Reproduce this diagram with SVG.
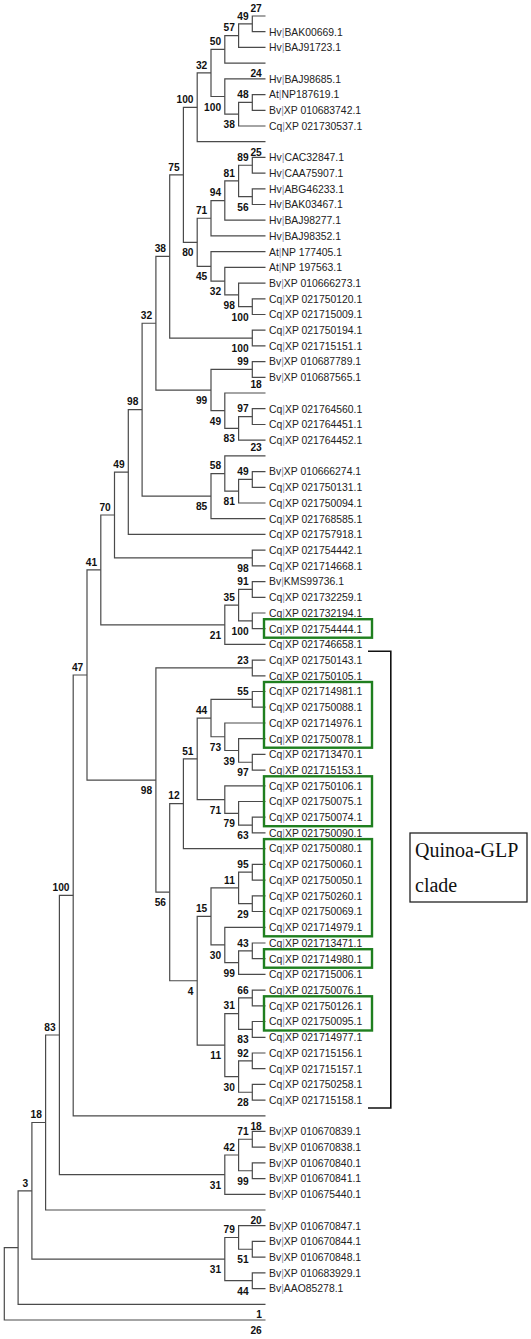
<svg xmlns="http://www.w3.org/2000/svg" width="531" height="1339" viewBox="0 0 531 1339">
<style>
.br{fill:none;stroke:#4a4a4a;stroke-width:1.2}
.t{font-family:"Liberation Sans",Arial,sans-serif;font-size:10.4px;fill:#222}
.p{fill:#8a8aa8}
.b{font-family:"Liberation Sans",Arial,sans-serif;font-size:10.2px;font-weight:bold;fill:#111;text-anchor:end}
.gb{fill:none;stroke:#1f7f1f;stroke-width:2.4}
.brk{fill:none;stroke:#111;stroke-width:1.6}
.q{font-family:"Liberation Serif","Times New Roman",serif;font-size:20px;fill:#111}
</style>
<rect width="531" height="1339" fill="#fff"/>
<g id="connectors">
<path class="br" d="M265.5 16 H252.3 V31.7 H265.5"/>
<path class="br" d="M252.3 23.85 H238.6 V47.4 H265.5"/>
<path class="br" d="M238.6 35.6 H224.8 V63.1 H265.5"/>
<path class="br" d="M265.5 94.6 H252.3 V110.3 H265.5"/>
<path class="br" d="M252.3 102.45 H238.6 V126 H265.5"/>
<path class="br" d="M265.5 78.8 H224.8 V114.2 H238.6"/>
<path class="br" d="M224.8 49.35 H211 V96.5 H224.8"/>
<path class="br" d="M211 72.9 H197.2 V141.7 H265.5"/>
<path class="br" d="M265.5 157.4 H252.3 V173.1 H265.5"/>
<path class="br" d="M265.5 188.8 H252.3 V204.5 H265.5"/>
<path class="br" d="M252.3 165.25 H238.6 V196.65 H252.3"/>
<path class="br" d="M238.6 180.95 H224.8 V220.2 H265.5"/>
<path class="br" d="M224.8 200.6 H211 V235.9 H265.5"/>
<path class="br" d="M265.5 298.8 H252.3 V314.5 H265.5"/>
<path class="br" d="M265.5 283.1 H238.6 V306.65 H252.3"/>
<path class="br" d="M265.5 267.4 H224.8 V294.9 H238.6"/>
<path class="br" d="M265.5 251.7 H211 V281.15 H224.8"/>
<path class="br" d="M211 218.25 H197.2 V266.4 H211"/>
<path class="br" d="M197.2 107.3 H183.4 V242.3 H197.2"/>
<path class="br" d="M265.5 330.2 H252.3 V345.9 H265.5"/>
<path class="br" d="M183.4 174.8 H169.7 V338.05 H252.3"/>
<path class="br" d="M265.5 361.6 H252.3 V377.3 H265.5"/>
<path class="br" d="M265.5 408.7 H252.3 V424.5 H265.5"/>
<path class="br" d="M252.3 416.6 H238.6 V440.2 H265.5"/>
<path class="br" d="M265.5 393 H224.8 V428.4 H238.6"/>
<path class="br" d="M252.3 369.45 H211 V410.7 H224.8"/>
<path class="br" d="M169.7 256.4 H155.9 V390.1 H211"/>
<path class="br" d="M265.5 471.6 H252.3 V487.3 H265.5"/>
<path class="br" d="M252.3 479.45 H238.6 V503 H265.5"/>
<path class="br" d="M265.5 455.9 H224.8 V491.2 H238.6"/>
<path class="br" d="M224.8 473.55 H211 V518.7 H265.5"/>
<path class="br" d="M155.9 323.25 H142.1 V496.1 H211"/>
<path class="br" d="M142.1 409.7 H128.3 V534.4 H265.5"/>
<path class="br" d="M265.5 550.1 H252.3 V565.8 H265.5"/>
<path class="br" d="M128.3 472.05 H114.5 V557.95 H252.3"/>
<path class="br" d="M265.5 581.6 H252.3 V597.3 H265.5"/>
<path class="br" d="M265.5 613 H252.3 V628.7 H265.5"/>
<path class="br" d="M252.3 589.45 H238.6 V620.85 H252.3"/>
<path class="br" d="M238.6 605.15 H224.8 V644.4 H265.5"/>
<path class="br" d="M114.5 515 H100.8 V624.8 H224.8"/>
<path class="br" d="M265.5 660.1 H252.3 V675.8 H265.5"/>
<path class="br" d="M265.5 691.5 H252.3 V707.2 H265.5"/>
<path class="br" d="M265.5 754.4 H252.3 V770.1 H265.5"/>
<path class="br" d="M265.5 738.7 H238.6 V762.25 H252.3"/>
<path class="br" d="M265.5 723 H224.8 V750.5 H238.6"/>
<path class="br" d="M252.3 699.35 H211 V736.75 H224.8"/>
<path class="br" d="M265.5 817.2 H252.3 V832.9 H265.5"/>
<path class="br" d="M265.5 801.5 H238.6 V825.05 H252.3"/>
<path class="br" d="M265.5 785.8 H224.8 V813.3 H238.6"/>
<path class="br" d="M211 718.05 H197.2 V799.55 H224.8"/>
<path class="br" d="M197.2 758.8 H183.4 V848.6 H265.5"/>
<path class="br" d="M265.5 864.3 H252.3 V880.1 H265.5"/>
<path class="br" d="M265.5 895.8 H252.3 V911.5 H265.5"/>
<path class="br" d="M252.3 872.2 H238.6 V903.65 H252.3"/>
<path class="br" d="M265.5 943 H252.3 V958.7 H265.5"/>
<path class="br" d="M252.3 950.85 H238.6 V974.4 H265.5"/>
<path class="br" d="M265.5 927.3 H224.8 V962.6 H238.6"/>
<path class="br" d="M238.6 887.9 H211 V944.95 H224.8"/>
<path class="br" d="M265.5 990.1 H252.3 V1005.8 H265.5"/>
<path class="br" d="M265.5 1021.5 H252.3 V1037.3 H265.5"/>
<path class="br" d="M252.3 997.95 H238.6 V1029.4 H252.3"/>
<path class="br" d="M265.5 1053 H252.3 V1068.7 H265.5"/>
<path class="br" d="M265.5 1084.4 H252.3 V1100.1 H265.5"/>
<path class="br" d="M252.3 1060.85 H238.6 V1092.25 H252.3"/>
<path class="br" d="M238.6 1013.7 H224.8 V1076.55 H238.6"/>
<path class="br" d="M211 916.4 H197.2 V1045.1 H224.8"/>
<path class="br" d="M183.4 803.7 H169.7 V980.75 H197.2"/>
<path class="br" d="M252.3 667.95 H155.9 V892.2 H169.7"/>
<path class="br" d="M100.8 569.9 H87 V780.1 H155.9"/>
<path class="br" d="M87 675 H73.2 V1115.8 H265.5"/>
<path class="br" d="M265.5 1131.4 H252.3 V1147.1 H265.5"/>
<path class="br" d="M265.5 1162.9 H252.3 V1178.6 H265.5"/>
<path class="br" d="M252.3 1139.25 H238.6 V1170.75 H252.3"/>
<path class="br" d="M238.6 1155 H224.8 V1194.3 H265.5"/>
<path class="br" d="M73.2 895.4 H59.4 V1174.65 H224.8"/>
<path class="br" d="M59.4 1035 H45.6 V1210 H265.5"/>
<path class="br" d="M265.5 1241.4 H252.3 V1257.1 H265.5"/>
<path class="br" d="M265.5 1225.7 H238.6 V1249.25 H252.3"/>
<path class="br" d="M265.5 1272.8 H252.3 V1288.6 H265.5"/>
<path class="br" d="M238.6 1237.5 H224.8 V1280.7 H252.3"/>
<path class="br" d="M45.6 1122.5 H31.9 V1259.1 H224.8"/>
<path class="br" d="M31.9 1190.8 H18.1 V1304.3 H265.5"/>
<path class="br" d="M18.1 1247.55 H4.3 V1320 H265.5"/>
</g>
<g id="leaves" class="t">
<g id="leaf02"><text x="269" y="35.5">Hv<tspan class="p">|</tspan>BAK00669.1</text></g>
<g id="leaf03"><text x="269" y="51.2">Hv<tspan class="p">|</tspan>BAJ91723.1</text></g>
<g id="leaf05"><text x="269" y="82.6">Hv<tspan class="p">|</tspan>BAJ98685.1</text></g>
<g id="leaf06"><text x="269" y="98.4">At<tspan class="p">|</tspan>NP187619.1</text></g>
<g id="leaf07"><text x="269" y="114.1">Bv<tspan class="p">|</tspan>XP 010683742.1</text></g>
<g id="leaf08"><text x="269" y="129.8">Cq<tspan class="p">|</tspan>XP 021730537.1</text></g>
<g id="leaf10"><text x="269" y="161.2">Hv<tspan class="p">|</tspan>CAC32847.1</text></g>
<g id="leaf11"><text x="269" y="176.9">Hv<tspan class="p">|</tspan>CAA75907.1</text></g>
<g id="leaf12"><text x="269" y="192.6">Hv<tspan class="p">|</tspan>ABG46233.1</text></g>
<g id="leaf13"><text x="269" y="208.3">Hv<tspan class="p">|</tspan>BAK03467.1</text></g>
<g id="leaf14"><text x="269" y="224">Hv<tspan class="p">|</tspan>BAJ98277.1</text></g>
<g id="leaf15"><text x="269" y="239.7">Hv<tspan class="p">|</tspan>BAJ98352.1</text></g>
<g id="leaf16"><text x="269" y="255.5">At<tspan class="p">|</tspan>NP 177405.1</text></g>
<g id="leaf17"><text x="269" y="271.2">At<tspan class="p">|</tspan>NP 197563.1</text></g>
<g id="leaf18"><text x="269" y="286.9">Bv<tspan class="p">|</tspan>XP 010666273.1</text></g>
<g id="leaf19"><text x="269" y="302.6">Cq<tspan class="p">|</tspan>XP 021750120.1</text></g>
<g id="leaf20"><text x="269" y="318.3">Cq<tspan class="p">|</tspan>XP 021715009.1</text></g>
<g id="leaf21"><text x="269" y="334">Cq<tspan class="p">|</tspan>XP 021750194.1</text></g>
<g id="leaf22"><text x="269" y="349.7">Cq<tspan class="p">|</tspan>XP 021715151.1</text></g>
<g id="leaf23"><text x="269" y="365.4">Bv<tspan class="p">|</tspan>XP 010687789.1</text></g>
<g id="leaf24"><text x="269" y="381.1">Bv<tspan class="p">|</tspan>XP 010687565.1</text></g>
<g id="leaf26"><text x="269" y="412.5">Cq<tspan class="p">|</tspan>XP 021764560.1</text></g>
<g id="leaf27"><text x="269" y="428.3">Cq<tspan class="p">|</tspan>XP 021764451.1</text></g>
<g id="leaf28"><text x="269" y="444">Cq<tspan class="p">|</tspan>XP 021764452.1</text></g>
<g id="leaf30"><text x="269" y="475.4">Bv<tspan class="p">|</tspan>XP 010666274.1</text></g>
<g id="leaf31"><text x="269" y="491.1">Cq<tspan class="p">|</tspan>XP 021750131.1</text></g>
<g id="leaf32"><text x="269" y="506.8">Cq<tspan class="p">|</tspan>XP 021750094.1</text></g>
<g id="leaf33"><text x="269" y="522.5">Cq<tspan class="p">|</tspan>XP 021768585.1</text></g>
<g id="leaf34"><text x="269" y="538.2">Cq<tspan class="p">|</tspan>XP 021757918.1</text></g>
<g id="leaf35"><text x="269" y="553.9">Cq<tspan class="p">|</tspan>XP 021754442.1</text></g>
<g id="leaf36"><text x="269" y="569.6">Cq<tspan class="p">|</tspan>XP 021714668.1</text></g>
<g id="leaf37"><text x="269" y="585.4">Bv<tspan class="p">|</tspan>KMS99736.1</text></g>
<g id="leaf38"><text x="269" y="601.1">Cq<tspan class="p">|</tspan>XP 021732259.1</text></g>
<g id="leaf39"><text x="269" y="616.8">Cq<tspan class="p">|</tspan>XP 021732194.1</text></g>
<g id="leaf40"><text x="269" y="632.5">Cq<tspan class="p">|</tspan>XP 021754444.1</text></g>
<g id="leaf41"><text x="269" y="648.2">Cq<tspan class="p">|</tspan>XP 021746658.1</text></g>
<g id="leaf42"><text x="269" y="663.9">Cq<tspan class="p">|</tspan>XP 021750143.1</text></g>
<g id="leaf43"><text x="269" y="679.6">Cq<tspan class="p">|</tspan>XP 021750105.1</text></g>
<g id="leaf44"><text x="269" y="695.3">Cq<tspan class="p">|</tspan>XP 021714981.1</text></g>
<g id="leaf45"><text x="269" y="711">Cq<tspan class="p">|</tspan>XP 021750088.1</text></g>
<g id="leaf46"><text x="269" y="726.8">Cq<tspan class="p">|</tspan>XP 021714976.1</text></g>
<g id="leaf47"><text x="269" y="742.5">Cq<tspan class="p">|</tspan>XP 021750078.1</text></g>
<g id="leaf48"><text x="269" y="758.2">Cq<tspan class="p">|</tspan>XP 021713470.1</text></g>
<g id="leaf49"><text x="269" y="773.9">Cq<tspan class="p">|</tspan>XP 021715153.1</text></g>
<g id="leaf50"><text x="269" y="789.6">Cq<tspan class="p">|</tspan>XP 021750106.1</text></g>
<g id="leaf51"><text x="269" y="805.3">Cq<tspan class="p">|</tspan>XP 021750075.1</text></g>
<g id="leaf52"><text x="269" y="821">Cq<tspan class="p">|</tspan>XP 021750074.1</text></g>
<g id="leaf53"><text x="269" y="836.7">Cq<tspan class="p">|</tspan>XP 021750090.1</text></g>
<g id="leaf54"><text x="269" y="852.4">Cq<tspan class="p">|</tspan>XP 021750080.1</text></g>
<g id="leaf55"><text x="269" y="868.1">Cq<tspan class="p">|</tspan>XP 021750060.1</text></g>
<g id="leaf56"><text x="269" y="883.9">Cq<tspan class="p">|</tspan>XP 021750050.1</text></g>
<g id="leaf57"><text x="269" y="899.6">Cq<tspan class="p">|</tspan>XP 021750260.1</text></g>
<g id="leaf58"><text x="269" y="915.3">Cq<tspan class="p">|</tspan>XP 021750069.1</text></g>
<g id="leaf59"><text x="269" y="931.1">Cq<tspan class="p">|</tspan>XP 021714979.1</text></g>
<g id="leaf60"><text x="269" y="946.8">Cq<tspan class="p">|</tspan>XP 021713471.1</text></g>
<g id="leaf61"><text x="269" y="962.5">Cq<tspan class="p">|</tspan>XP 021714980.1</text></g>
<g id="leaf62"><text x="269" y="978.2">Cq<tspan class="p">|</tspan>XP 021715006.1</text></g>
<g id="leaf63"><text x="269" y="993.9">Cq<tspan class="p">|</tspan>XP 021750076.1</text></g>
<g id="leaf64"><text x="269" y="1009.6">Cq<tspan class="p">|</tspan>XP 021750126.1</text></g>
<g id="leaf65"><text x="269" y="1025.3">Cq<tspan class="p">|</tspan>XP 021750095.1</text></g>
<g id="leaf66"><text x="269" y="1041.1">Cq<tspan class="p">|</tspan>XP 021714977.1</text></g>
<g id="leaf67"><text x="269" y="1056.8">Cq<tspan class="p">|</tspan>XP 021715156.1</text></g>
<g id="leaf68"><text x="269" y="1072.5">Cq<tspan class="p">|</tspan>XP 021715157.1</text></g>
<g id="leaf69"><text x="269" y="1088.2">Cq<tspan class="p">|</tspan>XP 021750258.1</text></g>
<g id="leaf70"><text x="269" y="1103.9">Cq<tspan class="p">|</tspan>XP 021715158.1</text></g>
<g id="leaf72"><text x="269" y="1135.2">Bv<tspan class="p">|</tspan>XP 010670839.1</text></g>
<g id="leaf73"><text x="269" y="1150.9">Bv<tspan class="p">|</tspan>XP 010670838.1</text></g>
<g id="leaf74"><text x="269" y="1166.7">Bv<tspan class="p">|</tspan>XP 010670840.1</text></g>
<g id="leaf75"><text x="269" y="1182.4">Bv<tspan class="p">|</tspan>XP 010670841.1</text></g>
<g id="leaf76"><text x="269" y="1198.1">Bv<tspan class="p">|</tspan>XP 010675440.1</text></g>
<g id="leaf78"><text x="269" y="1229.5">Bv<tspan class="p">|</tspan>XP 010670847.1</text></g>
<g id="leaf79"><text x="269" y="1245.2">Bv<tspan class="p">|</tspan>XP 010670844.1</text></g>
<g id="leaf80"><text x="269" y="1260.9">Bv<tspan class="p">|</tspan>XP 010670848.1</text></g>
<g id="leaf81"><text x="269" y="1276.6">Bv<tspan class="p">|</tspan>XP 010683929.1</text></g>
<g id="leaf82"><text x="269" y="1292.4">Bv<tspan class="p">|</tspan>AAO85278.1</text></g>
</g>
<g id="highlights">
<rect class="gb" x="264" y="619.2" width="108" height="18.5"/>
<rect class="gb" x="264" y="682" width="108" height="65.7"/>
<rect class="gb" x="264" y="776.3" width="108" height="49.9"/>
<rect class="gb" x="264" y="839.1" width="108" height="97.2"/>
<rect class="gb" x="264" y="949.2" width="108" height="18.5"/>
<rect class="gb" x="264" y="996.3" width="108" height="34.2"/>
</g>
<g id="support" class="b">
<g id="nA"><text x="248.6" y="19.5">49</text></g>
<g id="nB"><text x="234.9" y="31.3">57</text></g>
<g id="nC"><text x="221.1" y="45">50</text></g>
<g id="nD"><text x="207.3" y="68.6">32</text></g>
<g id="nE"><text x="221.1" y="110.5">100</text></g>
<g id="nF"><text x="248.6" y="98.1">48</text></g>
<g id="nG"><text x="234.9" y="128.2">38</text></g>
<g id="nH"><text x="193.5" y="103">100</text></g>
<g id="nJ1"><text x="248.6" y="161">89</text></g>
<g id="nJ3"><text x="248.6" y="210.6">56</text></g>
<g id="nJ2"><text x="234.9" y="176.6">81</text></g>
<g id="nJ4"><text x="221.1" y="196.3">94</text></g>
<g id="nJ5"><text x="207.3" y="214">71</text></g>
<g id="nK4"><text x="248.6" y="320.6">100</text></g>
<g id="nK3"><text x="234.9" y="308.9">98</text></g>
<g id="nK2"><text x="221.1" y="295.1">32</text></g>
<g id="nK1"><text x="207.3" y="280.4">45</text></g>
<g id="nJ6"><text x="193.5" y="256.3">80</text></g>
<g id="nI"><text x="179.7" y="170.5">75</text></g>
<g id="nM"><text x="248.6" y="352">100</text></g>
<g id="nL"><text x="166" y="252.1">38</text></g>
<g id="nQ1"><text x="248.6" y="365.1">99</text></g>
<g id="nQ4"><text x="248.6" y="412.3">97</text></g>
<g id="nQ3"><text x="234.9" y="442.4">83</text></g>
<g id="nQ2"><text x="221.1" y="424.7">49</text></g>
<g id="nQ"><text x="207.3" y="404.1">99</text></g>
<g id="nN"><text x="152.2" y="319">32</text></g>
<g id="nS3"><text x="248.6" y="475.1">49</text></g>
<g id="nS2"><text x="234.9" y="505.2">81</text></g>
<g id="nS1"><text x="221.1" y="469.2">58</text></g>
<g id="nS4"><text x="207.3" y="510.1">85</text></g>
<g id="nR"><text x="138.4" y="405.4">98</text></g>
<g id="nT"><text x="124.6" y="467.7">49</text></g>
<g id="nU2"><text x="248.6" y="572">98</text></g>
<g id="nU"><text x="110.8" y="510.7">70</text></g>
<g id="nW2"><text x="248.6" y="585.1">91</text></g>
<g id="nW3"><text x="248.6" y="634.8">100</text></g>
<g id="nW1"><text x="234.9" y="600.8">35</text></g>
<g id="nW"><text x="221.1" y="638.8">21</text></g>
<g id="nV"><text x="97.1" y="565.6">41</text></g>
<g id="nX1"><text x="248.6" y="663.6">23</text></g>
<g id="nZF1"><text x="248.6" y="695">55</text></g>
<g id="nZF4"><text x="248.6" y="776.2">97</text></g>
<g id="nZF3"><text x="234.9" y="764.5">39</text></g>
<g id="nZF2"><text x="221.1" y="750.7">73</text></g>
<g id="nZF"><text x="207.3" y="713.7">44</text></g>
<g id="nZG2"><text x="248.6" y="839">63</text></g>
<g id="nZG1"><text x="234.9" y="827.3">79</text></g>
<g id="nZG"><text x="221.1" y="813.5">71</text></g>
<g id="nZE"><text x="193.5" y="754.5">51</text></g>
<g id="nZC"><text x="179.7" y="799.4">12</text></g>
<g id="nZH3"><text x="248.6" y="867.9">95</text></g>
<g id="nZH4"><text x="248.6" y="917.6">29</text></g>
<g id="nZH1"><text x="234.9" y="883.6">11</text></g>
<g id="nZH6"><text x="248.6" y="946.5">43</text></g>
<g id="nZH5"><text x="234.9" y="976.6">99</text></g>
<g id="nZH2"><text x="221.1" y="959">30</text></g>
<g id="nZH"><text x="207.3" y="912.1">15</text></g>
<g id="nZI3"><text x="248.6" y="993.6">66</text></g>
<g id="nZI4"><text x="248.6" y="1043.4">83</text></g>
<g id="nZI1"><text x="234.9" y="1009.4">31</text></g>
<g id="nZI5"><text x="248.6" y="1056.5">92</text></g>
<g id="nZI6"><text x="248.6" y="1106.2">28</text></g>
<g id="nZI2"><text x="234.9" y="1090.5">30</text></g>
<g id="nZI"><text x="221.1" y="1059.1">11</text></g>
<g id="nZD"><text x="193.5" y="994.7">4</text></g>
<g id="nZB"><text x="166" y="906.2">56</text></g>
<g id="nZ"><text x="152.2" y="794.1">98</text></g>
<g id="nY"><text x="83.3" y="670.7">47</text></g>
<g id="nAA"><text x="69.5" y="891.1">100</text></g>
<g id="nAC2"><text x="248.6" y="1135">71</text></g>
<g id="nAC3"><text x="248.6" y="1184.7">99</text></g>
<g id="nAC1"><text x="234.9" y="1150.7">42</text></g>
<g id="nAC"><text x="221.1" y="1188.6">31</text></g>
<g id="nAB"><text x="55.7" y="1030.7">83</text></g>
<g id="nAD"><text x="41.9" y="1118.2">18</text></g>
<g id="nAE3"><text x="248.6" y="1263.2">51</text></g>
<g id="nAE1"><text x="234.9" y="1233.2">79</text></g>
<g id="nAE2"><text x="248.6" y="1294.7">44</text></g>
<g id="nAE"><text x="221.1" y="1273.1">31</text></g>
<g id="nAF"><text x="28.2" y="1186.5">3</text></g>
<g id="t1"><text x="261.8" y="11.6">27</text></g>
<g id="t5"><text x="261.8" y="76.7">24</text></g>
<g id="t10"><text x="261.8" y="156">25</text></g>
<g id="t25"><text x="261.8" y="388.4">18</text></g>
<g id="t29"><text x="261.8" y="451">23</text></g>
<g id="t72"><text x="261.8" y="1130">18</text></g>
<g id="t78"><text x="261.8" y="1224">20</text></g>
<g id="t84a"><text x="261.8" y="1318.3">1</text></g>
<g id="t84b"><text x="261.8" y="1334">26</text></g>
</g>
<g id="clade-bracket">
<path class="brk" d="M368 651.3 H390.8 V1108 H368"/>
</g>
<g id="clade-label">
<rect x="410" y="833" width="117" height="69" fill="#fff" stroke="#222" stroke-width="1.3"/>
<text class="q" x="415" y="857">Quinoa-GLP</text>
<text class="q" x="415" y="892">clade</text>
</g>
</svg>
